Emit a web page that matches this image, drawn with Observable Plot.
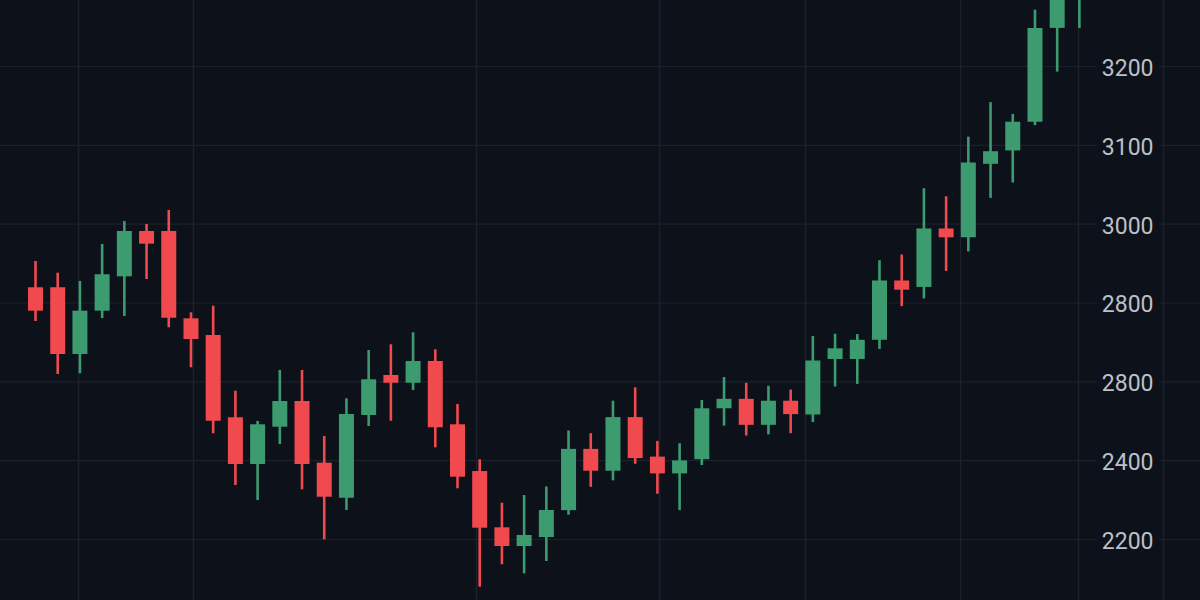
<!DOCTYPE html>
<html>
<head>
<meta charset="utf-8">
<script src="https://cdn.jsdelivr.net/npm/d3@7"></script>
<script src="https://cdn.jsdelivr.net/npm/@observablehq/plot@0.6"></script>
<style>
  html, body { margin: 0; padding: 0; background: #0d111a; overflow: hidden; }
  #chart { width: 1200px; height: 600px; }
</style>
</head>
<body>
<div id="chart"></div>
<script>
// Candle OHLC values (one per trading session, index 0..47)
const opens  = [2919.3, 2919.3, 2834.7, 2889.6, 2933.2, 2990.7, 2990.7, 2879.9, 2858.8, 2754.4,
                2695.1, 2742.4, 2775.0, 2696.8, 2652.4, 2757.3, 2808.0, 2798.2, 2825.8, 2745.5,
                2686.2, 2614.8, 2591.1, 2602.5, 2636.6, 2714.3, 2686.6, 2754.6, 2704.5, 2683.2,
                2701.2, 2765.8, 2777.8, 2744.8, 2775.4, 2757.9, 2828.3, 2828.3, 2852.7, 2927.9,
                2919.7, 2993.9, 2982.7, 3075.9, 3092.9, 3129.3, 3248.3, 3295.0];
const highs  = [2952.6, 2937.8, 2927.3, 2974.2, 3003.4, 2999.6, 3017.3, 2887.6, 2895.9, 2788.1,
                2749.7, 2814.4, 2814.4, 2730.6, 2778.5, 2839.7, 2847.0, 2862.2, 2840.6, 2771.2,
                2701.1, 2646.0, 2655.8, 2666.6, 2737.6, 2734.2, 2775.4, 2792.4, 2724.4, 2721.5,
                2776.4, 2805.5, 2798.2, 2794.3, 2789.5, 2857.5, 2860.4, 2859.9, 2953.6, 2960.9,
                3044.9, 3034.7, 3110.4, 3154.1, 3139.1, 3271.5, 3330.0, 3350.0];
const lows   = [2876.5, 2809.3, 2810.2, 2880.3, 2882.9, 2929.8, 2868.5, 2817.8, 2734.1, 2668.5,
                2649.4, 2720.5, 2663.0, 2599.6, 2636.8, 2743.3, 2750.0, 2789.0, 2716.3, 2664.3,
                2539.5, 2567.9, 2556.5, 2572.1, 2630.8, 2666.2, 2674.4, 2695.4, 2657.4, 2636.6,
                2693.8, 2743.8, 2731.3, 2732.7, 2734.2, 2748.3, 2793.4, 2796.7, 2841.0, 2895.3,
                2905.1, 2940.0, 2964.8, 3032.7, 3052.2, 3125.0, 3192.9, 3248.2];
const closes = [2889.6, 2834.7, 2889.6, 2935.8, 2990.7, 2974.6, 2880.7, 2853.7, 2750.0, 2695.1,
                2745.5, 2775.0, 2695.1, 2653.6, 2758.5, 2802.6, 2798.2, 2825.8, 2741.7, 2679.0,
                2614.3, 2591.1, 2605.1, 2636.8, 2714.3, 2686.6, 2754.6, 2702.6, 2683.2, 2699.7,
                2765.8, 2777.8, 2744.8, 2775.4, 2758.4, 2826.4, 2841.9, 2852.7, 2927.9, 2916.2,
                2993.9, 2982.7, 3077.5, 3091.9, 3129.3, 3248.3, 3310.0, 3330.0];

// Price axis: tick positions and the labels printed beside them
const yTickValues = [2600, 2700, 2800, 2900, 3000, 3100, 3200, 3300];
const yTickLabels = ["2200", "2400", "2800", "2800", "3000", "3100", "3200", "3300"];

// Vertical grid lines, in session-index units
const vGridSessions = [1.94, 7.11, 19.86, 28.10, 34.67, 41.65, 46.96, 50.79];

const UP = "#3c9c6f", DOWN = "#f04a4f", BG = "#0d111a";

const candles = opens.map((o, i) => ({
  i, open: o, high: highs[i], low: lows[i], close: closes[i],
  color: closes[i] >= o ? UP : DOWN
}));

const chart = Plot.plot({
  width: 1200,
  height: 600,
  margin: 0,
  x: {domain: [-1.576, 52.453], axis: null},
  y: {domain: [2522.6, 3283.7], axis: null},
  color: {type: "identity"},
  style: {background: BG, fontFamily: "Roboto, 'Noto Sans', sans-serif", overflow: "hidden"},
  marks: [
    Plot.ruleY(yTickValues, {stroke: "#1c202a", strokeWidth: 1.2}),
    Plot.ruleX(vGridSessions, {stroke: "#1c202a", strokeWidth: 1.5}),
    Plot.ruleX(candles, {x: "i", y1: "low", y2: "high", stroke: "color", strokeWidth: 2.6, clip: true}),
    Plot.ruleX(candles, {x: "i", y1: "open", y2: "close", stroke: "color", strokeWidth: 15, clip: true}),
    Plot.text(yTickValues, {
      y: d => d,
      text: (d, i) => yTickLabels[i],
      frameAnchor: "right",
      dx: -47,
      dy: 2,
      textAnchor: "end",
      fill: "#bcc0c8",
      fontSize: 23,
      stroke: BG,
      strokeWidth: 14
    })
  ]
});

document.getElementById("chart").appendChild(chart);
</script>
</body>
</html>
